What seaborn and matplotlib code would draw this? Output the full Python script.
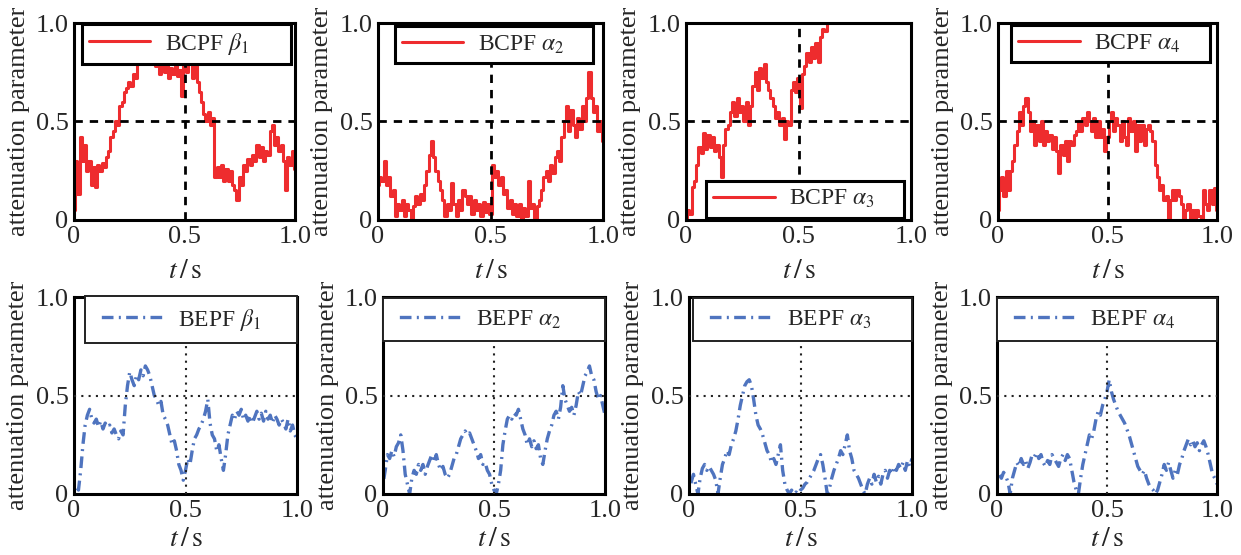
"""
衰减参数估计对比图 (BCPF / BEPF)
"""

import numpy as np
import matplotlib
matplotlib.use('Agg')
import matplotlib.pyplot as plt
import seaborn as sns

# ======================== 数据 ========================
# 时间轴 0 ~ 1 s, 步长 0.01 s
t = np.linspace(0, 1, 101)

bcpf_beta1 = [0.05, 0.30, 0.13, 0.42, 0.30, 0.38, 0.25, 0.30, 0.18, 0.27,
              0.17, 0.28, 0.25, 0.29, 0.27, 0.32, 0.35, 0.42, 0.45, 0.50,
              0.48, 0.58, 0.60, 0.65, 0.67, 0.70, 0.68, 0.74, 0.72, 0.80,
              0.85, 0.88, 0.90, 0.86, 0.90, 0.86, 0.80, 0.78, 0.82, 0.74,
              0.79, 0.75, 0.78, 0.72, 0.77, 0.74, 0.79, 0.73, 0.76, 0.63,
              0.78, 0.75, 0.85, 0.80, 0.72, 0.82, 0.70, 0.65, 0.60, 0.54,
              0.50, 0.55, 0.48, 0.52, 0.22, 0.27, 0.22, 0.28, 0.20, 0.26,
              0.20, 0.25, 0.18, 0.15, 0.10, 0.22, 0.18, 0.28, 0.25, 0.31,
              0.28, 0.33, 0.30, 0.38, 0.32, 0.37, 0.30, 0.35, 0.33, 0.45,
              0.48, 0.38, 0.42, 0.35, 0.38, 0.30, 0.15, 0.32, 0.28, 0.35,
              0.26]

bcpf_alpha2 = [0.18, 0.22, 0.20, 0.30, 0.18, 0.22, 0.12, 0.15, 0.02, 0.08,
               0.05, 0.10, 0.02, 0.08, 0.05, 0.00, 0.07, 0.12, 0.08, 0.13,
               0.10, 0.18, 0.25, 0.33, 0.40, 0.32, 0.25, 0.20, 0.15, 0.10,
               0.02, 0.08, 0.05, 0.19, 0.08, 0.02, 0.10, 0.05, 0.15, 0.12,
               0.08, 0.12, 0.03, 0.10, 0.05, 0.08, 0.02, 0.09, 0.04, 0.08,
               0.03, 0.28, 0.22, 0.25, 0.18, 0.22, 0.13, 0.15, 0.06, 0.10,
               0.03, 0.08, 0.02, 0.08, 0.00, 0.06, 0.02, 0.20, 0.06, 0.08,
               0.00, 0.07, 0.10, 0.15, 0.22, 0.25, 0.20, 0.28, 0.24, 0.32,
               0.35, 0.30, 0.42, 0.50, 0.58, 0.45, 0.56, 0.48, 0.42, 0.52,
               0.46, 0.58, 0.50, 0.62, 0.75, 0.62, 0.55, 0.58, 0.45, 0.50,
               0.40]

# α3 在 t≈0.64 s 后超出纵轴范围
bcpf_alpha3 = [0.00, 0.05, 0.03, 0.17, 0.20, 0.28, 0.37, 0.34, 0.44, 0.36,
               0.43, 0.37, 0.42, 0.35, 0.38, 0.32, 0.22, 0.38, 0.46, 0.48,
               0.55, 0.60, 0.53, 0.62, 0.55, 0.58, 0.50, 0.60, 0.48, 0.58,
               0.68, 0.75, 0.66, 0.77, 0.72, 0.79, 0.70, 0.66, 0.62, 0.58,
               0.52, 0.55, 0.48, 0.52, 0.41, 0.50, 0.48, 0.66, 0.70, 0.65,
               0.72, 0.57, 0.74, 0.78, 0.85, 0.80, 0.88, 0.82, 0.90, 0.80,
               0.93, 0.97, 0.96, 1.00, 1.02]

bcpf_alpha4 = [0.05, 0.15, 0.22, 0.12, 0.25, 0.15, 0.25, 0.30, 0.38, 0.45,
               0.55, 0.48, 0.58, 0.62, 0.55, 0.45, 0.50, 0.38, 0.48, 0.40,
               0.50, 0.38, 0.45, 0.40, 0.43, 0.36, 0.42, 0.35, 0.24, 0.38,
               0.33, 0.40, 0.30, 0.40, 0.38, 0.43, 0.45, 0.50, 0.45, 0.52,
               0.48, 0.55, 0.50, 0.45, 0.52, 0.42, 0.50, 0.42, 0.46, 0.35,
               0.42, 0.50, 0.55, 0.45, 0.52, 0.48, 0.40, 0.50, 0.42, 0.38,
               0.52, 0.45, 0.50, 0.35, 0.48, 0.40, 0.48, 0.38, 0.46, 0.48,
               0.45, 0.40, 0.28, 0.22, 0.15, 0.18, 0.10, 0.12, 0.00, 0.10,
               0.15, 0.10, 0.15, 0.12, 0.08, 0.00, 0.05, 0.08, 0.00, 0.05,
               0.00, 0.05, 0.02, 0.00, 0.15, 0.08, 0.05, 0.15, 0.08, 0.16,
               0.05]

bepf_beta1 = [0.05, 0.04, 0.02, 0.12, 0.25, 0.35, 0.40, 0.43, 0.38, 0.36,
              0.38, 0.34, 0.37, 0.33, 0.36, 0.34, 0.35, 0.31, 0.33, 0.30,
              0.28, 0.32, 0.30, 0.45, 0.55, 0.62, 0.58, 0.55, 0.60, 0.58,
              0.63, 0.60, 0.65, 0.63, 0.60, 0.55, 0.50, 0.48, 0.45, 0.47,
              0.40, 0.38, 0.35, 0.30, 0.25, 0.27, 0.22, 0.15, 0.12, 0.07,
              0.12, 0.18, 0.15, 0.22, 0.28, 0.30, 0.33, 0.35, 0.38, 0.42,
              0.48, 0.36, 0.30, 0.28, 0.22, 0.25, 0.18, 0.12, 0.20, 0.30,
              0.35, 0.40, 0.38, 0.42, 0.40, 0.43, 0.38, 0.40, 0.37, 0.40,
              0.36, 0.39, 0.42, 0.38, 0.41, 0.37, 0.42, 0.38, 0.40, 0.36,
              0.40, 0.38, 0.35, 0.38, 0.36, 0.33, 0.38, 0.32, 0.35, 0.30,
              0.28]

bepf_alpha2 = [0.05, 0.12, 0.20, 0.18, 0.22, 0.19, 0.24, 0.26, 0.30, 0.22,
               0.10, 0.05, 0.00, 0.08, 0.12, 0.10, 0.15, 0.12, 0.15, 0.10,
               0.14, 0.17, 0.20, 0.16, 0.20, 0.15, 0.12, 0.14, 0.10, 0.08,
               0.10, 0.14, 0.18, 0.20, 0.24, 0.28, 0.30, 0.32, 0.30, 0.31,
               0.28, 0.25, 0.22, 0.18, 0.20, 0.15, 0.16, 0.12, 0.10, 0.05,
               0.02, 0.00, 0.05, 0.12, 0.25, 0.32, 0.38, 0.40, 0.38, 0.41,
               0.40, 0.43, 0.38, 0.33, 0.30, 0.25, 0.28, 0.24, 0.27, 0.23,
               0.25, 0.18, 0.15, 0.22, 0.28, 0.32, 0.35, 0.40, 0.42, 0.38,
               0.44, 0.55, 0.48, 0.45, 0.42, 0.44, 0.40, 0.45, 0.52, 0.50,
               0.55, 0.60, 0.62, 0.65, 0.60, 0.58, 0.52, 0.48, 0.50, 0.45,
               0.40]

bepf_alpha3 = [0.03, 0.06, 0.10, 0.05, 0.00, 0.08, 0.13, 0.15, 0.12, 0.14,
               0.12, 0.10, 0.07, 0.00, 0.08, 0.15, 0.18, 0.22, 0.20, 0.25,
               0.28, 0.32, 0.38, 0.45, 0.50, 0.55, 0.57, 0.58, 0.55, 0.48,
               0.40, 0.35, 0.33, 0.30, 0.26, 0.22, 0.20, 0.16, 0.18, 0.15,
               0.20, 0.25, 0.12, 0.05, 0.02, 0.00, 0.02, 0.00, 0.01, 0.00,
               0.02, 0.03, 0.05, 0.06, 0.08, 0.10, 0.12, 0.15, 0.18, 0.20,
               0.15, 0.08, 0.00, 0.03, 0.08, 0.12, 0.15, 0.18, 0.22, 0.20,
               0.25, 0.30, 0.22, 0.18, 0.12, 0.10, 0.08, 0.05, 0.02, 0.00,
               0.05, 0.08, 0.05, 0.10, 0.06, 0.09, 0.05, 0.10, 0.12, 0.08,
               0.12, 0.10, 0.14, 0.12, 0.15, 0.13, 0.16, 0.12, 0.17, 0.14,
               0.18]

bepf_alpha4 = [0.08, 0.10, 0.08, 0.11, 0.09, 0.06, 0.00, 0.08, 0.12, 0.16,
               0.14, 0.18, 0.15, 0.17, 0.13, 0.16, 0.20, 0.19, 0.21, 0.18,
               0.20, 0.16, 0.14, 0.17, 0.15, 0.20, 0.18, 0.16, 0.14, 0.18,
               0.20, 0.17, 0.20, 0.18, 0.12, 0.06, 0.02, 0.00, 0.08, 0.15,
               0.20, 0.25, 0.30, 0.28, 0.32, 0.38, 0.42, 0.40, 0.45, 0.48,
               0.52, 0.58, 0.52, 0.48, 0.45, 0.42, 0.40, 0.38, 0.36, 0.33,
               0.30, 0.26, 0.22, 0.18, 0.14, 0.12, 0.10, 0.12, 0.08, 0.05,
               0.03, 0.02, 0.00, 0.02, 0.06, 0.10, 0.15, 0.12, 0.16, 0.12,
               0.08, 0.12, 0.10, 0.15, 0.18, 0.22, 0.25, 0.28, 0.25, 0.27,
               0.24, 0.26, 0.22, 0.25, 0.27, 0.24, 0.20, 0.15, 0.10, 0.08,
               0.05]

top_series = [bcpf_beta1, bcpf_alpha2, bcpf_alpha3, bcpf_alpha4]
top_labels = [r'BCPF $\beta_1$', r'BCPF $\alpha_2$', r'BCPF $\alpha_3$', r'BCPF $\alpha_4$']
bottom_series = [bepf_beta1, bepf_alpha2, bepf_alpha3, bepf_alpha4]
bottom_labels = [r'BEPF $\beta_1$', r'BEPF $\alpha_2$', r'BEPF $\alpha_3$', r'BEPF $\alpha_4$']

ticks = [0, 0.5, 1.0]
tick_labels = ['0', '0.5', '1.0']

# ======================== 样式 ========================
sns.set_style('white')
plt.rcParams['font.family'] = ['Liberation Serif', 'DejaVu Serif']
plt.rcParams['mathtext.fontset'] = 'stix'

W, H = 1241, 555
fig = plt.figure(figsize=(W / 100, H / 100), dpi=100)

# 每个子图的像素位置 (left, width), 以及图例框 (x0, y0, w, h, 轴坐标)
top_pos = [(74, 221), (378, 225), (686, 225), (998, 219)]
bottom_pos = [(74, 223), (383, 222), (689, 223), (997, 220)]
top_leg = [(0.036, 0.79, 0.944, 0.21), (0.075, 0.78, 0.88, 0.22),
           (0.09, 0.0, 0.88, 0.21), (0.06, 0.79, 0.91, 0.21)]
bottom_leg = [(0.05, 0.77, 0.95, 0.23), (0.0, 0.77, 1.0, 0.23),
              (0.02, 0.77, 0.98, 0.23), (0.0, 0.77, 1.0, 0.23)]

RED = '#EE2C2E'
BLUE = '#3761B6'


def style_axes(ax, ylab_x, xlab_y):
    ax.set_xlim(0, 1)
    ax.set_ylim(0, 1)
    ax.set_xticks(ticks)
    ax.set_xticklabels(tick_labels)
    ax.set_yticks(ticks)
    ax.set_yticklabels(tick_labels)
    ax.tick_params(length=0, labelsize=19, pad=4)
    for sp in ax.spines.values():
        sp.set_visible(True)
        sp.set_color('black')
        sp.set_linewidth(2.2)
    ax.set_xlabel(r'$t\,/\,\mathrm{s}$', fontsize=20)
    ax.set_ylabel('attenuation parameter', fontsize=19)
    ax.xaxis.set_label_coords(0.5, xlab_y)
    ax.yaxis.set_label_coords(ylab_x, 0.5)
    ax.grid(False)


# ======================== 上排: BCPF ========================
for i, (vals, lab) in enumerate(zip(top_series, top_labels)):
    left, width = top_pos[i]
    ax = fig.add_axes([left / W, 1 - 220 / H, width / W, 197 / H])
    sns.lineplot(x=t[:len(vals)], y=vals, ax=ax, color=RED, linewidth=2.2,
                 drawstyle='steps-mid', label=lab, errorbar=None, zorder=2)
    ax.axhline(0.5, color='black', linewidth=2, linestyle=(0, (3, 2.5)), zorder=3)
    ax.axvline(0.5, color='black', linewidth=2, linestyle=(0, (3, 2.5)), zorder=3)
    style_axes(ax, -0.2, -0.2)
    leg = ax.legend(loc='center', bbox_to_anchor=top_leg[i], mode='expand',
                    borderaxespad=0, fontsize=17, handlelength=2.6,
                    handletextpad=0.6, borderpad=0.3, fancybox=False,
                    framealpha=1, facecolor='white', edgecolor='black')
    leg.get_frame().set_linewidth(2.2)
    leg.set_zorder(5)

# ======================== 下排: BEPF ========================
for i, (vals, lab) in enumerate(zip(bottom_series, bottom_labels)):
    left, width = bottom_pos[i]
    ax = fig.add_axes([left / W, 1 - 494 / H, width / W, 197 / H])
    sns.lineplot(x=t[:len(vals)], y=vals, ax=ax, color=BLUE, linewidth=2.4,
                 alpha=0.88, linestyle=(0.6, (0.6, 1.6, 3.5, 1.6)), label=lab,
                 errorbar=None, zorder=2)
    ax.axhline(0.5, color='#222222', linewidth=1.5, linestyle=(0, (1, 2.5)), zorder=3)
    ax.axvline(0.5, color='#222222', linewidth=1.5, linestyle=(0, (1, 2.5)), zorder=3)
    style_axes(ax, -0.2, -0.165)
    leg = ax.legend(loc='center', bbox_to_anchor=bottom_leg[i], mode='expand',
                    borderaxespad=0, fontsize=17, handlelength=3.0,
                    handletextpad=0.5, borderpad=0.45, fancybox=False,
                    framealpha=1, facecolor='white', edgecolor='#222222')
    leg.get_frame().set_linewidth(1.4)
    leg.set_zorder(5)

fig.savefig('out.png', dpi=100)
